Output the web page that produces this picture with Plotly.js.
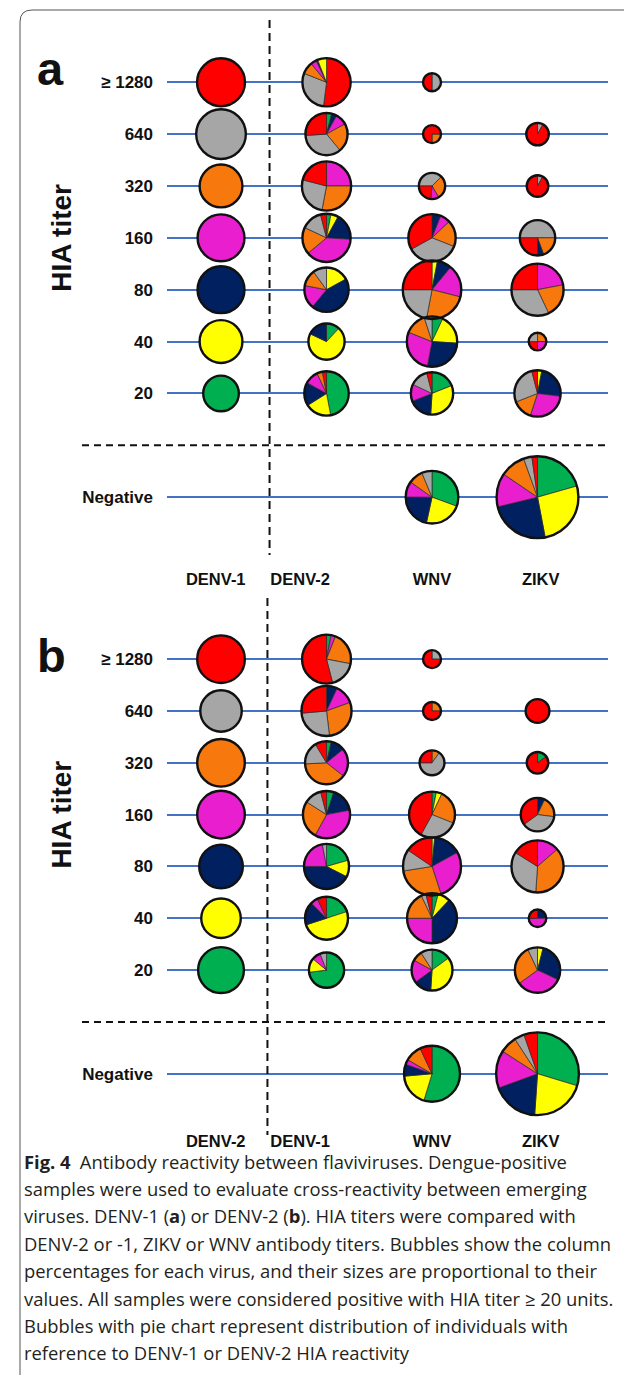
<!DOCTYPE html>
<html><head><meta charset="utf-8">
<script src="https://cdn.plot.ly/plotly-3.0.1.min.js"></script>
<style>html,body{margin:0;padding:0;background:#fff}#chart{width:624px;height:1387px}</style>
</head><body><div id="chart"></div>
<script>
// ---------------- DATA ----------------
const titerLabels = ['\u2265 1280', '640', '320', '160', '80', '40', '20', 'Negative'];
const titerRows = [7, 6, 5, 4, 3, 2, 1, -1];
const rowCategory = ['1280', '640', '320', '160', '80', '40', '20', null];
const categoryColors = {'1280':'#FF0000','640':'#A6A6A6','320':'#F7780D','160':'#E81ECF','80':'#002060','40':'#FFFF00','20':'#00B050'};

const columnsA = ['DENV-1', 'DENV-2', 'WNV', 'ZIKV'];
const columnsB = ['DENV-2', 'DENV-1', 'WNV', 'ZIKV'];
const yTitle = 'HIA titer';

// bubble sizes: column percentages (rows >=1280 .. 20, Negative)
const pctA_DENV1 = [16.3, 17.5, 13.0, 15.6, 15.6, 13.0, 9.0, null];
const pctA_DENV2 = [16.5, 12.6, 17.2, 16.5, 13.9, 9.3, 14.0, null];
const pctA_WNV   = [2.3, 2.3, 4.9, 15.9, 24.3, 18.0, 12.7, 19.6];
const pctA_ZIKV  = [null, 3.6, 3.3, 8.9, 19.3, 2.2, 15.2, 47.5];

const pctB_DENV2 = [16.1, 12.2, 16.1, 16.1, 13.5, 11.1, 14.9, null];
const pctB_DENV1 = [17.0, 17.8, 13.1, 15.8, 14.4, 13.1, 8.8, null];
const pctB_WNV   = [2.3, 2.3, 4.4, 15.0, 23.9, 17.7, 11.9, 22.2];
const pctB_ZIKV  = [null, 4.0, 3.3, 8.0, 19.3, 2.2, 14.6, 48.6];

// pie slices (clockwise), reference-titer category and % of bubble; rot = start angle
const slicesA_DENV2 = [
  {cat:['1280','640','320','160','80','40'], pct:[52,29,8,4,1,6]},
  {cat:['20','80','160','320','640','1280'], pct:[4,4,9,22,35,26]},
  {cat:['160','320','640','1280'], pct:[25,28,26,21]},
  {cat:['20','40','80','160','320','640','1280'], pct:[3,5,18,38,18,14,4]},
  {cat:['40','80','160','320','640'], pct:[17,44,17,12,10]},
  {cat:['20','40','80'], pct:[12,70,18]},
  {cat:['20','40','80','160','320','1280'], pct:[47,19,17,10,4,3]},
  null
];
const slicesA_WNV = [
  {cat:['640','1280'], pct:[50,50]},
  {cat:['320','1280'], pct:[25,75], rot:90},
  {cat:['640','320','160','1280'], pct:[37.5,29,10,23.5], rot:-90},
  {cat:['80','160','320','640','1280'], pct:[6,7,18,36,33]},
  {cat:['40','80','160','320','640','1280'], pct:[3,8,18,24,22,25]},
  {cat:['20','40','80','160','320','640'], pct:[7,19,27,28,14,5]},
  {cat:['20','40','80','160','640','1280'], pct:[19,32,18,13,14,4]},
  {cat:['20','40','80','160','320','640'], pct:[30.6,22.8,21.7,9.7,8.9,6.3]}
];
const slicesA_ZIKV = [
  null,
  {cat:['640','1280'], pct:[8,92]},
  {cat:['640','1280'], pct:[8,92]},
  {cat:['640','320','80','1280'], pct:[50,19.4,5.6,25], rot:-90},
  {cat:['160','320','640','1280'], pct:[22,21,32,25]},
  {cat:['320','160','1280','640'], pct:[25,25,25,25]},
  {cat:['40','80','160','320','640','1280'], pct:[3,24,28,14,27,4]},
  {cat:['20','40','80','160','320','640','1280'], pct:[20.6,26.4,24.2,13.3,10,3.3,2.2]}
];
const slicesB_DENV1 = [
  {cat:['20','160','320','640','1280'], pct:[3,3,22,18,54]},
  {cat:['80','160','320','640','1280'], pct:[7,12.5,28.6,25.5,26.4]},
  {cat:['20','80','160','320','640','1280'], pct:[3.6,10.6,21.4,38.6,17.2,8.6]},
  {cat:['20','80','160','320','640','1280'], pct:[5,17,36,26,12,4]},
  {cat:['20','40','80','160','640'], pct:[20.6,11.9,42.5,22,3]},
  {cat:['20','40','80','160','1280'], pct:[20,50,17.5,5.5,7]},
  {cat:['20','40','160','640'], pct:[73,13,8,6]},
  null
];
const slicesB_WNV = [
  {cat:['640','1280'], pct:[25,75]},
  {cat:['320','1280'], pct:[25,75]},
  {cat:['320','640','1280'], pct:[10,65,25]},
  {cat:['20','40','320','640','1280'], pct:[3,4,24,27,42]},
  {cat:['40','80','160','320','640','1280'], pct:[1.5,15.5,28,27.5,12,15.5]},
  {cat:['20','40','80','160','320','640','1280'], pct:[4,8,38,25,18,3,4]},
  {cat:['20','40','80','160','320','640'], pct:[15,36,14,18,8,9]},
  {cat:['20','40','80','160','320','1280'], pct:[54.7,18.9,6.9,2.8,9.7,7]}
];
const slicesB_ZIKV = [
  null,
  {cat:['1280'], pct:[100]},
  {cat:['20','1280'], pct:[15,85]},
  {cat:['80','320','640','1280'], pct:[7,20,38,35]},
  {cat:['160','320','640','1280'], pct:[13.6,37.5,32.8,16.1]},
  {cat:['80','160','1280'], pct:[25,50,25]},
  {cat:['40','80','160','320','640'], pct:[4,28,33,28,7]},
  {cat:['20','40','80','160','320','640','1280'], pct:[29.7,21.4,18.3,14.7,6.7,3.9,5.3]}
];

const captionLines = [
  '<b>Fig. 4</b>\u2002Antibody reactivity between flaviviruses. Dengue-positive',
  'samples were used to evaluate cross-reactivity between emerging',
  'viruses. DENV-1 (<b>a</b>) or DENV-2 (<b>b</b>). HIA titers were compared with',
  'DENV-2 or -1, ZIKV or WNV antibody titers. Bubbles show the column',
  'percentages for each virus, and their sizes are proportional to their',
  'values. All samples were considered positive with HIA titer \u2265 20 units.',
  'Bubbles with pie chart represent distribution of individuals with',
  'reference to DENV-1 or DENV-2 HIA reactivity'
];

// ---------------- LAYOUT / STYLE ----------------
const W = 624, H = 1387;
const AREA_PER_PCT = 141;         // px^2 of bubble area per 1 %
const plotL = 167, plotR = 608;
const xRange = [-0.512, 3.668];
const labelX = [-0.05, 0.75, 2.0, 3.03];
const panels = [
  {name:'a', top:20, bottom:562, yRange:[-2.25, 8.2], xa:'x', ya:'y', vx:0.46, vtop:20, vbot:555, tagY:68, titleY:4,
   cols: columnsA,
   data: [
     {pct:pctA_DENV1, ref:true},
     {pct:pctA_DENV2, slices:slicesA_DENV2},
     {pct:pctA_WNV, slices:slicesA_WNV},
     {pct:pctA_ZIKV, slices:slicesA_ZIKV}]},
  {name:'b', top:598, bottom:1124, yRange:[-1.97, 8.18], xa:'x2', ya:'y2', vx:0.44, vtop:598, vbot:1135, tagY:655, titleY:4,
   cols: columnsB,
   data: [
     {pct:pctB_DENV2, ref:true},
     {pct:pctB_DENV1, slices:slicesB_DENV1},
     {pct:pctB_WNV, slices:slicesB_WNV},
     {pct:pctB_ZIKV, slices:slicesB_ZIKV}]}
];

function xPx(x){ return plotL + (x - xRange[0]) / (xRange[1] - xRange[0]) * (plotR - plotL); }
function yPx(p, y){ return p.top + (p.yRange[1] - y) / (p.yRange[1] - p.yRange[0]) * (p.bottom - p.top); }

const traces = [];
const shapes = [];
panels.forEach(p => {
  p.data.forEach((col, ci) => {
    col.pct.forEach((v, ri) => {
      if (v == null) return;
      const r = Math.sqrt(AREA_PER_PCT * v) / 2;
      const cx = xPx(ci), cy = yPx(p, titerRows[ri]);
      let cats, vals, rot = 0;
      if (col.ref) { cats = [rowCategory[ri]]; vals = [100]; }
      else { const s = col.slices[ri]; cats = s.cat; vals = s.pct; rot = s.rot || 0; }
      traces.push({
        type:'pie', sort:false, direction:'clockwise', rotation:rot,
        labels: cats.map(c => p.name + c), values: vals,
        marker:{colors: cats.map(c => categoryColors[c]), line:{color:'#2a2a2a', width:0.7}},
        textinfo:'none', hoverinfo:'skip', showlegend:false,
        domain:{x:[(cx - r) / W, (cx + r) / W], y:[1 - (cy + r) / H, 1 - (cy - r) / H]}
      });
      shapes.push({type:'circle', layer:'above', xref:p.xa, yref:p.ya,
        xsizemode:'pixel', ysizemode:'pixel', xanchor:ci, yanchor:titerRows[ri],
        x0:-r, x1:r, y0:-r, y1:r, line:{color:'#111', width:2.4}, fillcolor:'rgba(0,0,0,0)'});
    });
  });
});

const FONT = 'Liberation Sans, Arial, sans-serif';
const layout = {
  width:W, height:H, margin:{l:0, r:0, t:0, b:0},
  paper_bgcolor:'#fff', plot_bgcolor:'rgba(0,0,0,0)', showlegend:false,
  shapes: shapes, annotations: []
};
panels.forEach((p, i) => {
  const sfx = i === 0 ? '' : '2';
  layout['xaxis' + sfx] = {domain:[plotL / W, plotR / W], range:xRange, anchor:'y' + sfx,
    showgrid:false, zeroline:false, showline:false, ticks:'', fixedrange:true,
    tickmode:'array', tickvals:labelX, ticktext:p.cols,
    tickfont:{family:FONT, size:16.5, color:'#111', weight:'bold'}, ticklabelstandoff:5};
  layout['yaxis' + sfx] = {domain:[1 - p.bottom / H, 1 - p.top / H], range:p.yRange, anchor:'x' + sfx,
    showgrid:true, gridcolor:'#4472C4', gridwidth:2, zeroline:false, showline:false, ticks:'',
    fixedrange:true, tickmode:'array', tickvals:titerRows, ticktext:titerLabels,
    tickfont:{family:FONT, size:17, color:'#111', weight:'bold'}, ticklabelstandoff:13};
  // y-axis title, centred on the 160 row as in the original figure
  layout.annotations.push({xref:'paper', yref:'y' + sfx, x:62 / W, y:p.titleY, textangle:-90,
    xanchor:'center', yanchor:'middle', showarrow:false, text:'<b>' + yTitle + '</b>',
    font:{family:FONT, size:28, color:'#111'}});
  // dashed separators
  layout.shapes.push({type:'line', xref:'x' + sfx, yref:'paper', x0:p.vx, x1:p.vx,
    y0:1 - p.vtop / H, y1:1 - p.vbot / H, line:{color:'#111', width:2, dash:'8px,5px'}});
  layout.shapes.push({type:'line', xref:'paper', yref:'y' + sfx, x0:82 / W, x1:610 / W, y0:0, y1:0,
    line:{color:'#111', width:2, dash:'7px,5px'}});
  layout.annotations.push({xref:'paper', yref:'paper', x:35 / W, y:1 - p.tagY / H,
    xanchor:'left', yanchor:'middle', showarrow:false, text:'<b>' + p.name + '</b>',
    font:{family:FONT, size:47, color:'#111'}});
});
captionLines.forEach((t, k) => {
  layout.annotations.push({xref:'paper', yref:'paper', x:22 / W, y:1 - (1161 + k * 27.4) / H,
    xanchor:'left', yanchor:'middle', showarrow:false, align:'left', text:t,
    font:{family:'Open Sans, Noto Sans, sans-serif', size:18.4, color:'#231f20'}});
});
// figure frame
layout.shapes.push({type:'path', xref:'paper', yref:'paper', layer:'below',
  path:'M ' + (20 / W) + ',' + (1 - 1375 / H) + ' L ' + (20 / W) + ',' + (1 - 22 / H) +
       ' Q ' + (20 / W) + ',' + (1 - 10 / H) + ' ' + (32 / W) + ',' + (1 - 10 / H) + ' L 1,' + (1 - 10 / H),
  line:{color:'#555', width:1}});

Plotly.newPlot('chart', traces, layout, {staticPlot:true, displayModeBar:false});
</script>
</body></html>
